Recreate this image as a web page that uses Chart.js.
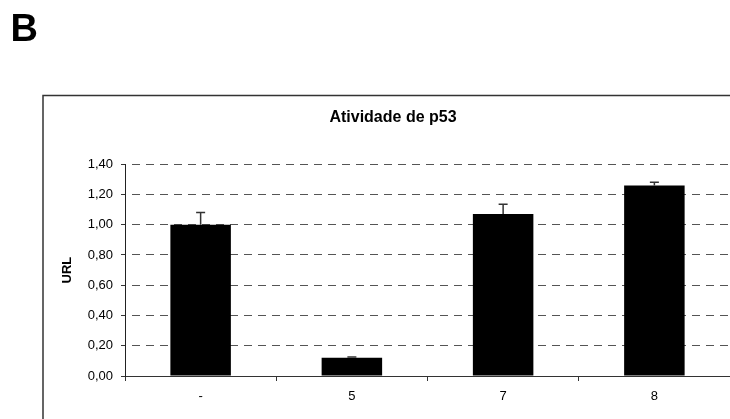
<!DOCTYPE html>
<html>
<head>
<meta charset="utf-8">
<script src="https://cdn.jsdelivr.net/npm/chart.js@4/dist/chart.umd.min.js"></script>
<style>
  html, body { margin: 0; padding: 0; background: #fff; overflow: hidden; }
  #wrap { position: absolute; left: 0; top: 0; width: 730px; height: 419px; }
  #panel { position: absolute; left: 10.5px; top: 8.8px; font: bold 38px "Liberation Sans", Arial, sans-serif; line-height: 38px; color: #000; }
</style>
</head>
<body>
<div id="wrap"><canvas id="c" width="730" height="419"></canvas></div>
<div id="panel">B</div>
<script>
const categories = ['-', '5', '7', '8'];
const values = [1.00, 0.12, 1.07, 1.26];
const errors = [0.08, 0.005, 0.065, 0.02];
const yTickLabels = ['0,00', '0,20', '0,40', '0,60', '0,80', '1,00', '1,20', '1,40'];
const chartTitle = 'Atividade de p53';
const yTitle = 'URL';

const FONT = '"Liberation Sans", Arial, sans-serif';

const frame = {
  id: 'frame',
  beforeDraw(chart) {
    const ctx = chart.ctx;
    ctx.save();
    ctx.strokeStyle = '#333';
    ctx.lineWidth = 1.5;
    ctx.strokeRect(43, 95.5, 760, 400);
    ctx.restore();
  }
};

const errorBars = {
  id: 'errorBars',
  afterDatasetsDraw(chart) {
    const ctx = chart.ctx;
    const ys = chart.scales.y;
    const meta = chart.getDatasetMeta(0);
    ctx.save();
    ctx.strokeStyle = '#333';
    ctx.lineWidth = 1.5;
    meta.data.forEach((bar, i) => {
      const x = bar.x;
      const y1 = ys.getPixelForValue(values[i]);
      const y2 = ys.getPixelForValue(values[i] + errors[i]);
      ctx.beginPath();
      ctx.moveTo(x, y1);
      ctx.lineTo(x, y2);
      ctx.moveTo(x - 4.5, y2);
      ctx.lineTo(x + 4.5, y2);
      ctx.stroke();
    });
    ctx.restore();
  }
};

new Chart(document.getElementById('c'), {
  type: 'bar',
  data: {
    labels: categories,
    datasets: [{
      data: values,
      backgroundColor: '#000',
      borderColor: '#222',
      borderWidth: 0,
      barPercentage: 0.4,
      categoryPercentage: 1.0
    }]
  },
  options: {
    responsive: false,
    animation: false,
    devicePixelRatio: 1,
    layout: { padding: { left: 56, right: 0, top: 0, bottom: 0 } },
    plugins: {
      legend: { display: false },
      tooltip: { enabled: false },
      title: {
        display: true,
        text: chartTitle,
        color: '#000',
        font: { family: FONT, size: 16, weight: 'bold' },
        padding: { top: 108, bottom: 37 }
      }
    },
    scales: {
      x: {
        grid: {
          display: true,
          offset: true,
          drawOnChartArea: false,
          drawTicks: true,
          tickLength: 5,
          color: '#333',
          tickColor: '#333'
        },
        border: { display: true, color: '#333', width: 1 },
        ticks: {
          color: '#000',
          font: { family: FONT, size: 13 },
          padding: 8,
          maxRotation: 0
        },
        afterFit(scale) { scale.height = 43; }
      },
      y: {
        min: 0,
        max: 1.4,
        grid: {
          display: true,
          drawOnChartArea: true,
          drawTicks: true,
          tickLength: 4,
          color: (ctx) => ctx.tick && ctx.tick.value === 0 ? 'rgba(0,0,0,0)' : '#555',
          tickColor: '#333',
          lineWidth: 1
        },
        border: { display: true, color: '#222', width: 1, dash: [8, 6], dashOffset: 8 },
        ticks: {
          stepSize: 0.2,
          color: '#000',
          font: { family: FONT, size: 13 },
          padding: 8,
          callback: (v, i) => yTickLabels[i]
        },
        title: {
          display: true,
          text: yTitle,
          color: '#000',
          font: { family: FONT, size: 13, weight: 'bold' },
          padding: { top: 4, bottom: 0 }
        },
        afterFit(scale) { scale.width = 69; }
      }
    }
  },
  plugins: [frame, errorBars]
});
</script>
</body>
</html>
